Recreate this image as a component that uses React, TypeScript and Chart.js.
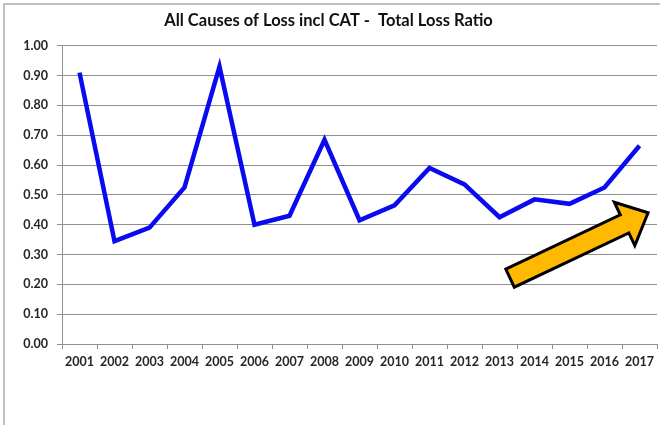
import React, { useEffect, useRef } from "react";
import { Chart, registerables } from "chart.js";

Chart.register(...registerables);

const years = [
  "2001", "2002", "2003", "2004", "2005", "2006", "2007", "2008", "2009",
  "2010", "2011", "2012", "2013", "2014", "2015", "2016", "2017",
];
const lossRatio = [
  0.91, 0.345, 0.39, 0.525, 0.93, 0.40, 0.43, 0.685, 0.415,
  0.465, 0.59, 0.535, 0.425, 0.485, 0.47, 0.525, 0.665,
];
const titleText = "All Causes of Loss incl CAT -  Total Loss Ratio";

const FONT = "Lato, 'Open Sans', sans-serif";
const GRID = "#8e8e8e";

// Upward trend arrow, placed in fractions of the chart area
const trendArrow = {
  id: "trendArrow",
  afterDraw(chart: Chart) {
    const { ctx, chartArea } = chart;
    const w = chartArea.right - chartArea.left;
    const h = chartArea.bottom - chartArea.top;
    const x0 = chartArea.left + 0.753 * w;
    const y0 = chartArea.top + 0.779 * h;
    const x1 = chartArea.left + 0.985 * w;
    const y1 = chartArea.top + 0.56 * h;
    const dx = x1 - x0;
    const dy = y1 - y0;
    const len = Math.hypot(dx, dy);
    const ang = Math.atan2(dy, dx);
    const shaft = 10;
    const head = 24;
    const headLen = 26;
    ctx.save();
    ctx.translate(x0, y0);
    ctx.rotate(ang);
    ctx.beginPath();
    ctx.moveTo(0, -shaft);
    ctx.lineTo(len - headLen, -shaft);
    ctx.lineTo(len - headLen, -head);
    ctx.lineTo(len, 0);
    ctx.lineTo(len - headLen, head);
    ctx.lineTo(len - headLen, shaft);
    ctx.lineTo(0, shaft);
    ctx.closePath();
    ctx.fillStyle = "#FFB900";
    ctx.fill();
    ctx.lineWidth = 3;
    ctx.lineJoin = "miter";
    ctx.strokeStyle = "#000000";
    ctx.stroke();
    ctx.restore();
  },
};

export default function App() {
  const ref = useRef<HTMLCanvasElement | null>(null);

  useEffect(() => {
    if (!ref.current) return;
    const chart = new Chart(ref.current, {
      type: "line",
      data: {
        labels: years,
        datasets: [
          {
            data: lossRatio,
            borderColor: "#0a0af0",
            borderWidth: 4.5,
            pointRadius: 0,
            tension: 0,
            borderJoinStyle: "miter",
            fill: false,
          },
        ],
      },
      options: {
        animation: false,
        responsive: false,
        layout: { padding: { left: 0, right: 3, top: 0, bottom: 0 } },
        plugins: {
          legend: { display: false },
          tooltip: { enabled: false },
          title: {
            display: true,
            text: titleText,
            color: "#111111",
            font: { family: FONT, size: 16.5, weight: "bold" },
            padding: { top: 11, bottom: 15 },
          },
        },
        scales: {
          x: {
            offset: true,
            grid: {
              display: true,
              offset: true,
              drawOnChartArea: false,
              drawTicks: true,
              tickLength: 5,
              color: GRID,
            },
            border: { display: true, color: GRID, width: 1 },
            ticks: {
              color: "#262626",
              font: { family: FONT, size: 12.5, weight: "bold" },
              padding: 5,
              maxRotation: 0,
              autoSkip: false,
            },
            afterFit(scale: any) {
              scale.height = 81;
            },
          },
          y: {
            min: 0,
            max: 1,
            ticks: {
              stepSize: 0.1,
              color: "#262626",
              font: { family: FONT, size: 12.5, weight: "bold" },
              padding: 9,
              callback: (v: any) => Number(v).toFixed(2),
            },
            grid: { color: GRID, tickLength: 5, lineWidth: 1 },
            border: { display: true, color: GRID, width: 1 },
            afterFit(scale: any) {
              scale.width = 62;
            },
          },
        },
      },
      plugins: [trendArrow],
    });
    return () => chart.destroy();
  }, []);

  return (
    <div
      style={{
        position: "fixed",
        left: 0,
        top: 0,
        width: 660,
        height: 425,
        background: "#ffffff",
        overflow: "hidden",
      }}
    >
      <div
        style={{
          position: "absolute",
          left: 3,
          top: 3,
          width: 700,
          height: 500,
          borderLeft: "2px solid #c0c0c0",
          borderTop: "2px solid #c0c0c0",
        }}
      />
      <canvas
        ref={ref}
        width={660}
        height={425}
        style={{ position: "absolute", left: 0, top: 0 }}
      />
    </div>
  );
}
